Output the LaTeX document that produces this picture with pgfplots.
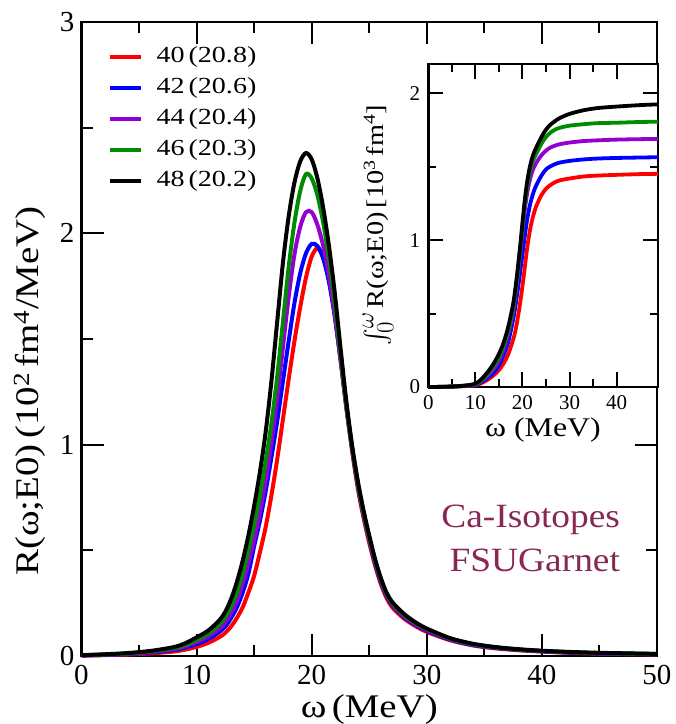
\documentclass[border=0pt]{standalone}
\usepackage{amsmath}
\usepackage{fontspec}
\setmainfont{Liberation Serif}
\newfontfamily\lblfont[FakeStretch=1.18]{Liberation Serif}
\newfontfamily\legfont[FakeStretch=1.22]{Liberation Serif}
\newfontfamily\cafont[FakeStretch=1.1]{Liberation Serif}
\usepackage{pgfplots}
\pgfplotsset{compat=1.18}
\definecolor{cgreen}{RGB}{0,140,0}
\definecolor{cviolet}{RGB}{148,0,211}
\definecolor{cmaroon}{RGB}{135,40,85}

\pgfplotstableread{
w r40 r42 r44 r46 r48
0 0.002 0.0025 0.003 0.0035 0.004
2 0.004 0.005 0.006 0.007 0.008
4 0.007 0.009 0.011 0.012 0.014
6 0.012 0.016 0.019 0.021 0.024
8 0.021 0.028 0.033 0.037 0.042
9 0.030 0.040 0.046 0.052 0.060
10 0.043 0.056 0.066 0.076 0.088
11 0.062 0.080 0.092 0.105 0.120
12 0.090 0.115 0.130 0.150 0.170
12.5 0.110 0.140 0.160 0.185 0.210
13 0.140 0.180 0.205 0.235 0.270
13.5 0.180 0.230 0.260 0.300 0.350
14 0.230 0.300 0.340 0.390 0.450
14.5 0.300 0.390 0.440 0.500 0.570
15 0.380 0.520 0.550 0.620 0.710
15.5 0.490 0.640 0.680 0.760 0.870
16 0.610 0.780 0.830 0.920 1.060
16.5 0.760 0.940 1.010 1.100 1.300
17 0.930 1.110 1.220 1.320 1.580
17.5 1.120 1.300 1.460 1.580 1.860
18 1.310 1.490 1.700 1.840 2.080
18.5 1.490 1.670 1.900 2.050 2.240
19 1.650 1.810 2.030 2.200 2.340
19.5 1.790 1.905 2.100 2.280 2.380
20 1.890 1.950 2.100 2.260 2.350
20.5 1.930 1.940 2.040 2.180 2.260
21 1.890 1.880 1.940 2.050 2.120
21.5 1.780 1.770 1.800 1.880 1.940
22 1.610 1.610 1.620 1.670 1.720
22.5 1.400 1.410 1.410 1.430 1.460
23 1.180 1.190 1.180 1.190 1.210
23.5 0.975 0.990 0.980 0.990 1.000
24 0.795 0.810 0.810 0.820 0.830
24.5 0.655 0.670 0.670 0.680 0.690
25 0.535 0.550 0.550 0.560 0.570
25.5 0.430 0.440 0.445 0.455 0.460
26 0.342 0.352 0.358 0.365 0.370
26.5 0.275 0.285 0.290 0.295 0.300
27 0.230 0.240 0.245 0.250 0.255
28 0.178 0.185 0.190 0.195 0.200
29 0.142 0.148 0.152 0.156 0.160
30 0.114 0.119 0.123 0.127 0.130
32 0.075 0.078 0.081 0.083 0.085
34 0.050 0.052 0.054 0.056 0.058
36 0.036 0.038 0.040 0.041 0.042
38 0.027 0.029 0.030 0.031 0.032
40 0.021 0.022 0.023 0.024 0.025
42 0.016 0.017 0.018 0.019 0.020
45 0.011 0.012 0.013 0.014 0.015
50 0.0075 0.008 0.009 0.0095 0.010
}\maintab

\pgfplotstableread{
w s40 s42 s44 s46 s48
0 0 0 0 0 0
4 0.001 0.001 0.002 0.002 0.002
8 0.006 0.008 0.009 0.010 0.010
10 0.012 0.015 0.018 0.020 0.023
11 0.022 0.028 0.034 0.038 0.045
12 0.038 0.048 0.058 0.068 0.078
13 0.058 0.072 0.090 0.105 0.118
14 0.083 0.102 0.128 0.148 0.165
15 0.115 0.148 0.180 0.200 0.225
16 0.160 0.218 0.258 0.280 0.302
17 0.225 0.310 0.360 0.385 0.412
18 0.320 0.455 0.510 0.535 0.562
18.5 0.382 0.550 0.620 0.645 0.672
19 0.468 0.660 0.752 0.780 0.805
19.5 0.570 0.780 0.905 0.932 0.955
20 0.685 0.905 1.055 1.090 1.118
20.5 0.815 1.030 1.205 1.245 1.275
21 0.945 1.140 1.320 1.365 1.398
21.5 1.050 1.225 1.400 1.455 1.488
22 1.130 1.290 1.460 1.518 1.553
22.5 1.190 1.340 1.500 1.560 1.600
23 1.237 1.378 1.530 1.592 1.636
24 1.305 1.438 1.577 1.655 1.700
25 1.350 1.482 1.610 1.703 1.753
26 1.377 1.504 1.632 1.734 1.788
27 1.396 1.519 1.645 1.754 1.813
28 1.408 1.529 1.654 1.766 1.833
30 1.420 1.540 1.665 1.780 1.860
33 1.434 1.550 1.675 1.790 1.885
36 1.440 1.556 1.680 1.797 1.900
40 1.445 1.560 1.685 1.800 1.910
45 1.450 1.563 1.688 1.805 1.920
48.8 1.452 1.565 1.690 1.807 1.925
}\insettab

\begin{document}
\begin{tikzpicture}[x=1pt,y=1pt]
\useasboundingbox (0,0) rectangle (676,724);
\begin{axis}[
  at={(81.5pt,68pt)}, anchor=south west,
  width=575.5pt, height=634pt, scale only axis,
  xmin=0, xmax=50, ymin=0, ymax=3,
  xtick={0,10,...,50}, ytick={0,1,2,3},
  minor x tick num=1, minor y tick num=1,
  tick align=inside,
  major tick length=22pt, minor tick length=11pt,
  every tick/.style={black, line width=2pt},
  axis line style={line width=2.5pt},
  tick label style={font=\fontsize{29}{29}\selectfont, inner sep=0pt},
  /pgf/number format/assume math mode=true,
  xticklabel style={yshift=-9pt},
  yticklabel style={xshift=-7pt},
  clip=false,
  every axis plot/.append style={line width=4pt, smooth},
  legend cell align=left,
  legend image code/.code={\draw[#1, line width=4pt] (0pt,0pt) -- (31pt,0pt);},
  legend style={draw=none, fill=none, at={(0.04,0.965)}, anchor=north west,
    font=\legfont\fontsize{23}{23}\selectfont, row sep=9pt,
    nodes={inner sep=0pt, text height=16pt, text depth=6pt},
    /tikz/every odd column/.append style={column sep=14pt}},
]
\addplot[red] table[x=w, y=r40] {\maintab};
\addlegendentry{40\,(20.8)}
\addplot[blue] table[x=w, y=r42] {\maintab};
\addlegendentry{42\,(20.6)}
\addplot[cviolet] table[x=w, y=r44] {\maintab};
\addlegendentry{44\,(20.4)}
\addplot[cgreen] table[x=w, y=r46] {\maintab};
\addlegendentry{46\,(20.3)}
\addplot[black] table[x=w, y=r48] {\maintab};
\addlegendentry{48\,(20.2)}
\node[anchor=base east, text=cmaroon, font=\cafont\fontsize{34}{34}\selectfont, inner sep=0pt] at (axis cs:46.8,0.61) {Ca-Isotopes};
\node[anchor=base east, text=cmaroon, font=\cafont\fontsize{34}{34}\selectfont, inner sep=0pt] at (axis cs:46.8,0.40) {FSUGarnet};
\end{axis}

\begin{axis}[
  at={(428.3pt,337pt)}, anchor=south west,
  width=229.7pt, height=323pt, scale only axis,
  axis background/.style={fill=white},
  xmin=0, xmax=48.8, ymin=0, ymax=2.2,
  xtick={0,10,...,40}, ytick={0,1,2},
  minor x tick num=1, minor y tick num=1,
  tick align=inside,
  major tick length=15pt, minor tick length=7.5pt,
  every tick/.style={black, line width=2pt},
  axis line style={line width=2.5pt},
  tick label style={font=\fontsize{21}{21}\selectfont, inner sep=0pt},
  /pgf/number format/assume math mode=true,
  xticklabel style={yshift=-8pt},
  yticklabel style={xshift=-8pt},
  clip=false,
  every axis plot/.append style={line width=3.8pt, smooth},
]
\addplot[red] table[x=w, y=s40] {\insettab};
\addplot[blue] table[x=w, y=s42] {\insettab};
\addplot[cviolet] table[x=w, y=s44] {\insettab};
\addplot[cgreen] table[x=w, y=s46] {\insettab};
\addplot[black] table[x=w, y=s48] {\insettab};
\end{axis}

% axis labels
\node[anchor=base, font=\lblfont\fontsize{33}{33}\selectfont, inner sep=0pt] at (369.3,6) {ω\,(MeV)};
\node[rotate=90, anchor=center, font=\lblfont\fontsize{33}{33}\selectfont, inner sep=0pt] at (30,333) {R(ω;E0)\,(10\textsuperscript{2}\,fm\textsuperscript{4}/MeV)};
\node[anchor=base, font=\lblfont\fontsize{27}{27}\selectfont, inner sep=0pt] at (543,287) {ω (MeV)};
\node[rotate=90, anchor=center, font=\lblfont\fontsize{24}{24}\selectfont, inner sep=0pt] at (378,499) {{\fontsize{33}{33}\selectfont$\int_0^{\omega}$}\,R(ω;E0)\,[10\textsuperscript{3}\,fm\textsuperscript{4}]};
\end{tikzpicture}
\end{document}
